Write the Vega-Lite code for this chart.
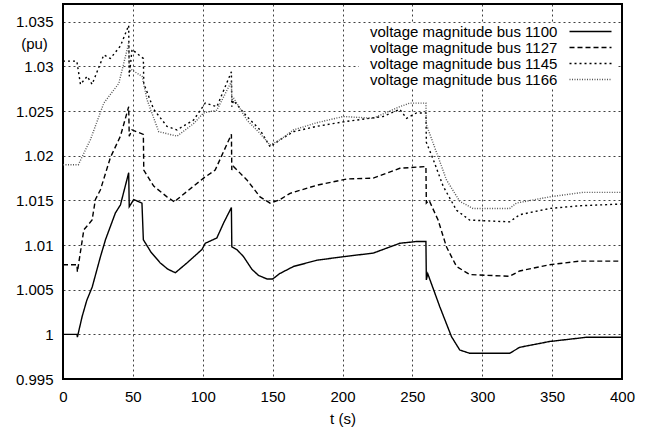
{
  "$schema": "https://vega.github.io/schema/vega-lite/v6.json",
  "width": 559,
  "height": 375,
  "autosize": {"type": "none"},
  "padding": {"left": 63, "top": 4, "right": 34, "bottom": 54},
  "background": "white",
  "config": {
    "font": "Liberation Sans",
    "view": {"stroke": "black", "strokeWidth": 2},
    "axis": {
      "labelFont": "Liberation Sans",
      "labelFontSize": 15,
      "labelColor": "black",
      "titleFont": "Liberation Sans",
      "titleFontSize": 15,
      "titleFontWeight": "normal",
      "titleColor": "black",
      "ticks": false,
      "domain": false,
      "grid": true,
      "gridColor": "black",
      "gridDash": [2, 3],
      "gridWidth": 1,
      "gridOpacity": 0.75
    },
    "legend": {
      "labelFont": "Liberation Sans",
      "labelFontSize": 15,
      "labelColor": "black"
    }
  },
  "datasets": {
    "volt": [
      {"series": "voltage magnitude bus 1100", "t": 0, "v": 1.0},
      {"series": "voltage magnitude bus 1100", "t": 10, "v": 1.0},
      {"series": "voltage magnitude bus 1100", "t": 10.3, "v": 0.9997},
      {"series": "voltage magnitude bus 1100", "t": 13.7, "v": 1.002},
      {"series": "voltage magnitude bus 1100", "t": 17, "v": 1.0038},
      {"series": "voltage magnitude bus 1100", "t": 20.9, "v": 1.0053},
      {"series": "voltage magnitude bus 1100", "t": 26.8, "v": 1.0087},
      {"series": "voltage magnitude bus 1100", "t": 30.4, "v": 1.0106},
      {"series": "voltage magnitude bus 1100", "t": 37.5, "v": 1.0136},
      {"series": "voltage magnitude bus 1100", "t": 41.1, "v": 1.0145},
      {"series": "voltage magnitude bus 1100", "t": 47, "v": 1.0181},
      {"series": "voltage magnitude bus 1100", "t": 47.4, "v": 1.0143},
      {"series": "voltage magnitude bus 1100", "t": 50.6, "v": 1.0151},
      {"series": "voltage magnitude bus 1100", "t": 56.5, "v": 1.0147},
      {"series": "voltage magnitude bus 1100", "t": 57.5, "v": 1.0106},
      {"series": "voltage magnitude bus 1100", "t": 63, "v": 1.0092},
      {"series": "voltage magnitude bus 1100", "t": 69.6, "v": 1.008},
      {"series": "voltage magnitude bus 1100", "t": 75, "v": 1.0073},
      {"series": "voltage magnitude bus 1100", "t": 80.4, "v": 1.0069},
      {"series": "voltage magnitude bus 1100", "t": 88.7, "v": 1.008},
      {"series": "voltage magnitude bus 1100", "t": 99.4, "v": 1.0095},
      {"series": "voltage magnitude bus 1100", "t": 101.8, "v": 1.0102},
      {"series": "voltage magnitude bus 1100", "t": 110.1, "v": 1.0108},
      {"series": "voltage magnitude bus 1100", "t": 115, "v": 1.0125},
      {"series": "voltage magnitude bus 1100", "t": 120.5, "v": 1.0142},
      {"series": "voltage magnitude bus 1100", "t": 120.8, "v": 1.0098},
      {"series": "voltage magnitude bus 1100", "t": 124.4, "v": 1.0095},
      {"series": "voltage magnitude bus 1100", "t": 129.2, "v": 1.0087},
      {"series": "voltage magnitude bus 1100", "t": 135.1, "v": 1.0073},
      {"series": "voltage magnitude bus 1100", "t": 139.9, "v": 1.0066},
      {"series": "voltage magnitude bus 1100", "t": 146, "v": 1.0062},
      {"series": "voltage magnitude bus 1100", "t": 150, "v": 1.0062},
      {"series": "voltage magnitude bus 1100", "t": 155, "v": 1.0068},
      {"series": "voltage magnitude bus 1100", "t": 164.9, "v": 1.0076},
      {"series": "voltage magnitude bus 1100", "t": 181.6, "v": 1.0083},
      {"series": "voltage magnitude bus 1100", "t": 200.6, "v": 1.0087},
      {"series": "voltage magnitude bus 1100", "t": 222, "v": 1.0091},
      {"series": "voltage magnitude bus 1100", "t": 241, "v": 1.0102},
      {"series": "voltage magnitude bus 1100", "t": 253, "v": 1.0104},
      {"series": "voltage magnitude bus 1100", "t": 259.7, "v": 1.0104},
      {"series": "voltage magnitude bus 1100", "t": 260, "v": 1.0061},
      {"series": "voltage magnitude bus 1100", "t": 261, "v": 1.0068},
      {"series": "voltage magnitude bus 1100", "t": 269.6, "v": 1.0031},
      {"series": "voltage magnitude bus 1100", "t": 278, "v": 0.99974},
      {"series": "voltage magnitude bus 1100", "t": 283.9, "v": 0.99825},
      {"series": "voltage magnitude bus 1100", "t": 291, "v": 0.99788},
      {"series": "voltage magnitude bus 1100", "t": 319.6, "v": 0.99788},
      {"series": "voltage magnitude bus 1100", "t": 326.8, "v": 0.99855},
      {"series": "voltage magnitude bus 1100", "t": 348.2, "v": 0.9992},
      {"series": "voltage magnitude bus 1100", "t": 374.4, "v": 0.99967},
      {"series": "voltage magnitude bus 1100", "t": 400, "v": 0.99968},

      {"series": "voltage magnitude bus 1127", "t": 0, "v": 1.0078},
      {"series": "voltage magnitude bus 1127", "t": 10, "v": 1.0078},
      {"series": "voltage magnitude bus 1127", "t": 10.3, "v": 1.007},
      {"series": "voltage magnitude bus 1127", "t": 14.9, "v": 1.0117},
      {"series": "voltage magnitude bus 1127", "t": 20.8, "v": 1.0128},
      {"series": "voltage magnitude bus 1127", "t": 23.2, "v": 1.0151},
      {"series": "voltage magnitude bus 1127", "t": 26.8, "v": 1.0162},
      {"series": "voltage magnitude bus 1127", "t": 33.9, "v": 1.0198},
      {"series": "voltage magnitude bus 1127", "t": 41.1, "v": 1.0222},
      {"series": "voltage magnitude bus 1127", "t": 47, "v": 1.0255},
      {"series": "voltage magnitude bus 1127", "t": 47.4, "v": 1.0222},
      {"series": "voltage magnitude bus 1127", "t": 49.4, "v": 1.0229},
      {"series": "voltage magnitude bus 1127", "t": 57.5, "v": 1.0224},
      {"series": "voltage magnitude bus 1127", "t": 57.8, "v": 1.0184},
      {"series": "voltage magnitude bus 1127", "t": 64.9, "v": 1.0166},
      {"series": "voltage magnitude bus 1127", "t": 74.4, "v": 1.0154},
      {"series": "voltage magnitude bus 1127", "t": 80, "v": 1.0148},
      {"series": "voltage magnitude bus 1127", "t": 81.6, "v": 1.0151},
      {"series": "voltage magnitude bus 1127", "t": 93.4, "v": 1.0166},
      {"series": "voltage magnitude bus 1127", "t": 100.6, "v": 1.0175},
      {"series": "voltage magnitude bus 1127", "t": 108.9, "v": 1.0184},
      {"series": "voltage magnitude bus 1127", "t": 120.5, "v": 1.0224},
      {"series": "voltage magnitude bus 1127", "t": 120.8, "v": 1.0184},
      {"series": "voltage magnitude bus 1127", "t": 122, "v": 1.0188},
      {"series": "voltage magnitude bus 1127", "t": 131.6, "v": 1.0173},
      {"series": "voltage magnitude bus 1127", "t": 141, "v": 1.0154},
      {"series": "voltage magnitude bus 1127", "t": 148.2, "v": 1.0147},
      {"series": "voltage magnitude bus 1127", "t": 155.4, "v": 1.0151},
      {"series": "voltage magnitude bus 1127", "t": 162.5, "v": 1.0158},
      {"series": "voltage magnitude bus 1127", "t": 181.6, "v": 1.0167},
      {"series": "voltage magnitude bus 1127", "t": 203, "v": 1.0174},
      {"series": "voltage magnitude bus 1127", "t": 222, "v": 1.0175},
      {"series": "voltage magnitude bus 1127", "t": 241, "v": 1.0186},
      {"series": "voltage magnitude bus 1127", "t": 259.7, "v": 1.0188},
      {"series": "voltage magnitude bus 1127", "t": 260, "v": 1.0147},
      {"series": "voltage magnitude bus 1127", "t": 262, "v": 1.015},
      {"series": "voltage magnitude bus 1127", "t": 268.4, "v": 1.0128},
      {"series": "voltage magnitude bus 1127", "t": 274.4, "v": 1.0098},
      {"series": "voltage magnitude bus 1127", "t": 281.6, "v": 1.0076},
      {"series": "voltage magnitude bus 1127", "t": 291, "v": 1.0067},
      {"series": "voltage magnitude bus 1127", "t": 319.6, "v": 1.0065},
      {"series": "voltage magnitude bus 1127", "t": 326.8, "v": 1.0071},
      {"series": "voltage magnitude bus 1127", "t": 348.2, "v": 1.0078},
      {"series": "voltage magnitude bus 1127", "t": 369.6, "v": 1.0082},
      {"series": "voltage magnitude bus 1127", "t": 400, "v": 1.0082},

      {"series": "voltage magnitude bus 1145", "t": 0, "v": 1.0306},
      {"series": "voltage magnitude bus 1145", "t": 9.9, "v": 1.0306},
      {"series": "voltage magnitude bus 1145", "t": 12.5, "v": 1.028},
      {"series": "voltage magnitude bus 1145", "t": 17.3, "v": 1.0289},
      {"series": "voltage magnitude bus 1145", "t": 20.8, "v": 1.028},
      {"series": "voltage magnitude bus 1145", "t": 29.2, "v": 1.0313},
      {"series": "voltage magnitude bus 1145", "t": 33.9, "v": 1.0309},
      {"series": "voltage magnitude bus 1145", "t": 41.1, "v": 1.0323},
      {"series": "voltage magnitude bus 1145", "t": 47, "v": 1.0346},
      {"series": "voltage magnitude bus 1145", "t": 47.4, "v": 1.0289},
      {"series": "voltage magnitude bus 1145", "t": 49.4, "v": 1.0319},
      {"series": "voltage magnitude bus 1145", "t": 57.5, "v": 1.0309},
      {"series": "voltage magnitude bus 1145", "t": 57.8, "v": 1.0281},
      {"series": "voltage magnitude bus 1145", "t": 64.9, "v": 1.0252},
      {"series": "voltage magnitude bus 1145", "t": 74.4, "v": 1.0233},
      {"series": "voltage magnitude bus 1145", "t": 81.6, "v": 1.0229},
      {"series": "voltage magnitude bus 1145", "t": 93.4, "v": 1.024},
      {"series": "voltage magnitude bus 1145", "t": 101.8, "v": 1.0259},
      {"series": "voltage magnitude bus 1145", "t": 110.1, "v": 1.0255},
      {"series": "voltage magnitude bus 1145", "t": 120.5, "v": 1.0294},
      {"series": "voltage magnitude bus 1145", "t": 120.8, "v": 1.0255},
      {"series": "voltage magnitude bus 1145", "t": 122, "v": 1.0262},
      {"series": "voltage magnitude bus 1145", "t": 131.6, "v": 1.0244},
      {"series": "voltage magnitude bus 1145", "t": 141, "v": 1.0229},
      {"series": "voltage magnitude bus 1145", "t": 148.2, "v": 1.021},
      {"series": "voltage magnitude bus 1145", "t": 155.4, "v": 1.0218},
      {"series": "voltage magnitude bus 1145", "t": 164.9, "v": 1.0227},
      {"series": "voltage magnitude bus 1145", "t": 181.6, "v": 1.0233},
      {"series": "voltage magnitude bus 1145", "t": 200.6, "v": 1.0238},
      {"series": "voltage magnitude bus 1145", "t": 229, "v": 1.0244},
      {"series": "voltage magnitude bus 1145", "t": 241, "v": 1.0252},
      {"series": "voltage magnitude bus 1145", "t": 245.8, "v": 1.0242},
      {"series": "voltage magnitude bus 1145", "t": 253, "v": 1.0248},
      {"series": "voltage magnitude bus 1145", "t": 259.7, "v": 1.0248},
      {"series": "voltage magnitude bus 1145", "t": 260, "v": 1.0215},
      {"series": "voltage magnitude bus 1145", "t": 264.9, "v": 1.0196},
      {"series": "voltage magnitude bus 1145", "t": 272, "v": 1.0166},
      {"series": "voltage magnitude bus 1145", "t": 281.6, "v": 1.0139},
      {"series": "voltage magnitude bus 1145", "t": 291, "v": 1.0128},
      {"series": "voltage magnitude bus 1145", "t": 319.6, "v": 1.0126},
      {"series": "voltage magnitude bus 1145", "t": 326.8, "v": 1.0134},
      {"series": "voltage magnitude bus 1145", "t": 348.2, "v": 1.0141},
      {"series": "voltage magnitude bus 1145", "t": 369.6, "v": 1.0144},
      {"series": "voltage magnitude bus 1145", "t": 400, "v": 1.0146},

      {"series": "voltage magnitude bus 1166", "t": 0, "v": 1.019},
      {"series": "voltage magnitude bus 1166", "t": 11, "v": 1.019},
      {"series": "voltage magnitude bus 1166", "t": 19.6, "v": 1.0218},
      {"series": "voltage magnitude bus 1166", "t": 29.2, "v": 1.0259},
      {"series": "voltage magnitude bus 1166", "t": 39.9, "v": 1.0281},
      {"series": "voltage magnitude bus 1166", "t": 47, "v": 1.0326},
      {"series": "voltage magnitude bus 1166", "t": 47.4, "v": 1.03},
      {"series": "voltage magnitude bus 1166", "t": 49.4, "v": 1.0296},
      {"series": "voltage magnitude bus 1166", "t": 56.6, "v": 1.0289},
      {"series": "voltage magnitude bus 1166", "t": 60.1, "v": 1.0263},
      {"series": "voltage magnitude bus 1166", "t": 68.5, "v": 1.0227},
      {"series": "voltage magnitude bus 1166", "t": 81.6, "v": 1.0222},
      {"series": "voltage magnitude bus 1166", "t": 93.4, "v": 1.0236},
      {"series": "voltage magnitude bus 1166", "t": 100.6, "v": 1.0248},
      {"series": "voltage magnitude bus 1166", "t": 110, "v": 1.0251},
      {"series": "voltage magnitude bus 1166", "t": 120.5, "v": 1.0283},
      {"series": "voltage magnitude bus 1166", "t": 120.8, "v": 1.0262},
      {"series": "voltage magnitude bus 1166", "t": 122, "v": 1.0265},
      {"series": "voltage magnitude bus 1166", "t": 131.6, "v": 1.024},
      {"series": "voltage magnitude bus 1166", "t": 141, "v": 1.0225},
      {"series": "voltage magnitude bus 1166", "t": 148.2, "v": 1.0212},
      {"series": "voltage magnitude bus 1166", "t": 155.4, "v": 1.0218},
      {"series": "voltage magnitude bus 1166", "t": 164.9, "v": 1.0229},
      {"series": "voltage magnitude bus 1166", "t": 181.6, "v": 1.0237},
      {"series": "voltage magnitude bus 1166", "t": 200.6, "v": 1.0244},
      {"series": "voltage magnitude bus 1166", "t": 222, "v": 1.0242},
      {"series": "voltage magnitude bus 1166", "t": 241, "v": 1.0255},
      {"series": "voltage magnitude bus 1166", "t": 248.2, "v": 1.0259},
      {"series": "voltage magnitude bus 1166", "t": 259.7, "v": 1.0259},
      {"series": "voltage magnitude bus 1166", "t": 260, "v": 1.0235},
      {"series": "voltage magnitude bus 1166", "t": 264.9, "v": 1.0214},
      {"series": "voltage magnitude bus 1166", "t": 274.4, "v": 1.0173},
      {"series": "voltage magnitude bus 1166", "t": 283.9, "v": 1.0149},
      {"series": "voltage magnitude bus 1166", "t": 293.4, "v": 1.0141},
      {"series": "voltage magnitude bus 1166", "t": 319.6, "v": 1.0141},
      {"series": "voltage magnitude bus 1166", "t": 324.4, "v": 1.0147},
      {"series": "voltage magnitude bus 1166", "t": 348.2, "v": 1.0154},
      {"series": "voltage magnitude bus 1166", "t": 372, "v": 1.0159},
      {"series": "voltage magnitude bus 1166", "t": 400, "v": 1.0159}
    ]
  },
  "data": {"name": "volt"},
  "mark": {"type": "line", "strokeWidth": 1.4, "clip": true},
  "encoding": {
    "x": {
      "field": "t",
      "type": "quantitative",
      "scale": {"domain": [0, 400], "nice": false},
      "axis": {
        "values": [0, 50, 100, 150, 200, 250, 300, 350, 400],
        "title": "t (s)",
        "labelPadding": 10,
        "titlePadding": 7,
        "labelFlush": false
      }
    },
    "y": {
      "field": "v",
      "type": "quantitative",
      "scale": {"domain": [0.995, 1.037], "nice": false, "zero": false},
      "axis": {
        "values": [0.995, 1.0, 1.005, 1.01, 1.015, 1.02, 1.025, 1.03, 1.035],
        "format": "~g",
        "labelPadding": 10,
        "labelFlush": false,
        "title": "(pu)",
        "titleAngle": 0,
        "titleAlign": "center",
        "titleBaseline": "middle",
        "titleX": -29,
        "titleY": 39
      }
    },
    "strokeDash": {
      "field": "series",
      "type": "nominal",
      "scale": {"range": [[1, 0], [5, 3], [2, 3], [1, 1.5]]},
      "legend": {
        "title": null,
        "orient": "none",
        "legendX": 296,
        "legendY": 19,
        "padding": 1,
        "symbolType": "M-5.25,0H5.25",
        "symbolSize": 64,
        "symbolStrokeWidth": 1.4,
        "symbolOffset": 223,
        "labelAlign": "left",
        "labelOffset": -228,
        "labelLimit": 400,
        "rowPadding": 0,
        "fillColor": "white"
      }
    },
    "color": {
      "field": "series",
      "type": "nominal",
      "scale": {"range": ["#000000", "#000000", "#000000", "#555555"]},
      "legend": {
        "title": null,
        "orient": "none",
        "legendX": 296,
        "legendY": 19,
        "padding": 1,
        "symbolType": "M-5.25,0H5.25",
        "symbolSize": 64,
        "symbolStrokeWidth": 1.4,
        "symbolOffset": 223,
        "labelAlign": "left",
        "labelOffset": -228,
        "labelLimit": 400,
        "rowPadding": 0,
        "fillColor": "white"
      }
    }
  }
}
